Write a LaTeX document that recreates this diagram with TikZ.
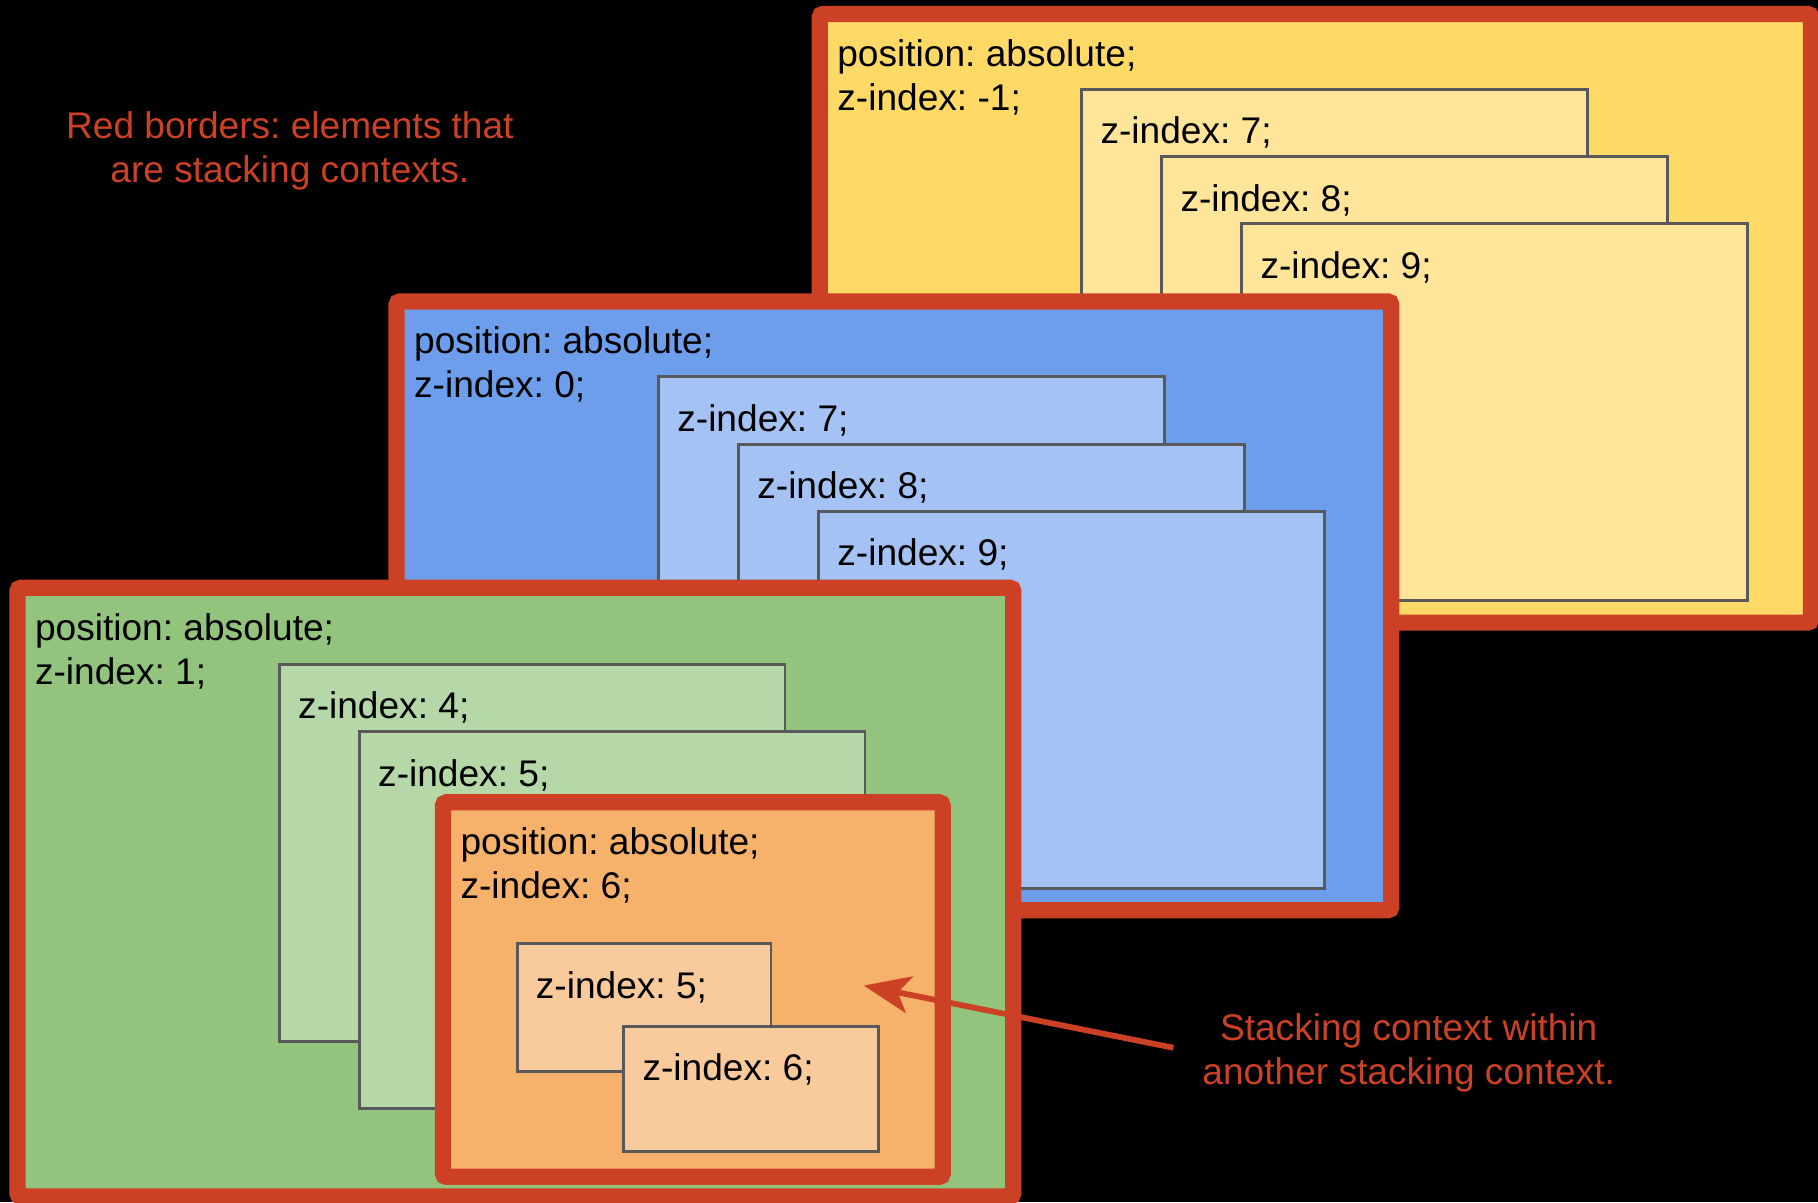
\documentclass[tikz,border=0pt]{standalone}
\usepackage{fontspec}
\setmainfont{Liberation Sans}
\usetikzlibrary{arrows.meta}
\frenchspacing

\definecolor{ctxred}{HTML}{CC4125}
\definecolor{boxgrey}{HTML}{595959}
\definecolor{ylwdark}{HTML}{FFD966}
\definecolor{ylwlight}{HTML}{FFE599}
\definecolor{bluedark}{HTML}{6D9EEB}
\definecolor{bluelight}{HTML}{A4C2F4}
\definecolor{grndark}{HTML}{93C47D}
\definecolor{grnlight}{HTML}{B6D7A8}
\definecolor{orgdark}{HTML}{F6B26B}
\definecolor{orglight}{HTML}{F9CB9C}

\tikzset{
  ctxbox/.style={draw=ctxred, line width=14pt, rounded corners=3pt, anchor=north west, inner sep=0pt, outer sep=0pt, minimum height=525pt},
  zbox/.style={draw=boxgrey, line width=2.5pt, anchor=north west, inner sep=0pt, outer sep=0pt, minimum width=436pt, minimum height=325pt},
  lbl/.style={anchor=base west, inner sep=0pt, font=\fontsize{32pt}{38pt}\selectfont},
  note/.style={text=ctxred, align=center, font=\fontsize{32pt}{38pt}\selectfont},
  pointer/.style={draw=ctxred, line width=5pt, -{Stealth[length=40pt, width=32pt, inset=10pt]}}
}

\begin{document}
\begin{tikzpicture}[x=1pt, y=-1pt]
	\useasboundingbox (0,0) rectangle (1568,1037);
	\fill[black] (0,0) rectangle (1568,1037);

	% yellow context, z-index -1
	\node[ctxbox, fill=ylwdark, minimum width=855pt] (ylw) at (707,12) {};
	\node[lbl] (ylwpos) at ([shift={(15,45)}]ylw.north west) {position: absolute;};
	\node[lbl] (ylwidx) at ([shift={(0,38)}]ylwpos.base west) {z-index: -1;};
	\node[zbox, fill=ylwlight] (ylwseven) at (933,77) {};
	\node[lbl] (ylwsevent) at ([shift={(16,47)}]ylwseven.north west) {z-index: 7;};
	\node[zbox, fill=ylwlight] (ylweight) at (1002,135) {};
	\node[lbl] (ylweightt) at ([shift={(16,47)}]ylweight.north west) {z-index: 8;};
	\node[zbox, fill=ylwlight] (ylwnine) at (1071,193) {};
	\node[lbl] (ylwninet) at ([shift={(16,47)}]ylwnine.north west) {z-index: 9;};

	% blue context, z-index 0
	\node[ctxbox, fill=bluedark, minimum width=858pt] (blu) at (342,260) {};
	\node[lbl] (blupos) at ([shift={(15,45)}]blu.north west) {position: absolute;};
	\node[lbl] (bluidx) at ([shift={(0,38)}]blupos.base west) {z-index: 0;};
	\node[zbox, fill=bluelight] (bluseven) at (568,325) {};
	\node[lbl] (bluseventt) at ([shift={(16,47)}]bluseven.north west) {z-index: 7;};
	\node[zbox, fill=bluelight] (blueight) at (637,383) {};
	\node[lbl] (blueightt) at ([shift={(16,47)}]blueight.north west) {z-index: 8;};
	\node[zbox, fill=bluelight] (blunine) at (706,441) {};
	\node[lbl] (bluninet) at ([shift={(16,47)}]blunine.north west) {z-index: 9;};

	% green context, z-index 1
	\node[ctxbox, fill=grndark, minimum width=859pt] (grn) at (15,507) {};
	\node[lbl] (grnpos) at ([shift={(15,45)}]grn.north west) {position: absolute;};
	\node[lbl] (grnidx) at ([shift={(0,38)}]grnpos.base west) {z-index: 1;};
	\node[zbox, fill=grnlight] (grnfour) at (241,573) {};
	\node[lbl] (grnfourt) at ([shift={(16,47)}]grnfour.north west) {z-index: 4;};
	\node[zbox, fill=grnlight] (grnfive) at (310,631) {};
	\node[lbl] (grnfivet) at ([shift={(16,47)}]grnfive.north west) {z-index: 5;};

	% orange context inside the green one
	\node[ctxbox, fill=orgdark, minimum width=431pt, minimum height=323pt] (org) at (382,692) {};
	\node[lbl] (orgpos) at ([shift={(15,45)}]org.north west) {position: absolute;};
	\node[lbl] (orgidx) at ([shift={(0,38)}]orgpos.base west) {z-index: 6;};
	\node[zbox, fill=orglight, minimum width=219pt, minimum height=110pt] (orgfive) at (446,814) {};
	\node[lbl] (orgfivet) at ([shift={(16,47)}]orgfive.north west) {z-index: 5;};
	\node[zbox, fill=orglight, minimum width=220pt, minimum height=108pt] (orgsix) at (538,885) {};
	\node[lbl] (orgsixt) at ([shift={(16,47)}]orgsix.north west) {z-index: 6;};

	% notes
	\node[note] (legend) at (250,130) {Red borders: elements that\\are stacking contexts.};
	\node[note] (nested) at (1215,908) {Stacking context within\\another stacking context.};
	\coordinate (tip) at (745,850);
	\draw[pointer, shorten <=22pt] (nested.west) -- (tip);
\end{tikzpicture}
\end{document}
